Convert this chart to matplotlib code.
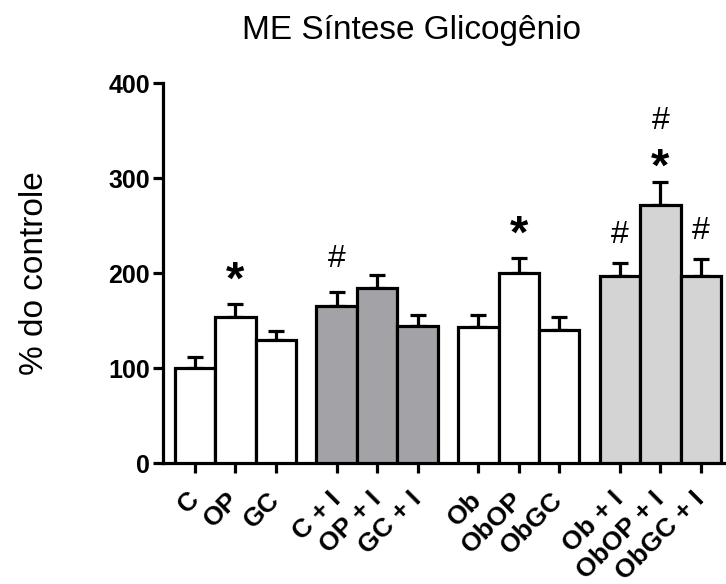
import matplotlib.pyplot as plt

plt.rcParams["font.family"] = ["Liberation Sans", "DejaVu Sans"]

labels = ["C", "OP", "GC", "C + I", "OP + I", "GC + I",
          "Ob", "ObOP", "ObGC", "Ob + I", "ObOP + I", "ObGC + I"]
means = [100, 154, 130, 166, 184, 144, 143, 200, 140, 197, 272, 197]
sems = [12, 14, 9, 14, 14, 12, 13, 16, 14, 14, 24, 18]
positions = [0, 1, 2, 3.5, 4.5, 5.5, 7, 8, 9, 10.5, 11.5, 12.5]
bar_colors = ["white"] * 3 + ["#a3a3a7"] * 3 + ["white"] * 3 + ["#d4d4d4"] * 3

# significance marks: (bar index, symbol, offset above error cap in px)
marks = [(1, "*", 22), (3, "#", 33), (7, "*", 22), (9, "#", 28),
         (10, "*", 13), (10, "#", 61), (11, "#", 28)]

LW = 2.3

fig = plt.figure(figsize=(7.26, 5.84), dpi=100)
ax = fig.add_axes([163 / 726, 1 - 463.3 / 584, (726 - 163) / 726, 380 / 584])

ax.bar(positions, means, width=1.0, color=bar_colors, edgecolor="black",
       linewidth=LW, zorder=3)
ax.errorbar(positions, means, yerr=[[0] * len(sems), sems], fmt="none",
            ecolor="black", elinewidth=LW, capsize=5.5, capthick=LW, zorder=2)

for i, sym, off in marks:
    top = means[i] + sems[i]
    if sym == "*":
        kw = dict(fontsize=34, fontweight="bold")
    else:
        kw = dict(fontsize=23)
    ax.annotate(sym, (positions[i], top), xytext=(0, off * 0.72),
                textcoords="offset points", ha="center", va="center", **kw)

ax.set_xlim(-0.79, 13.12)
ax.set_ylim(0, 400)
ax.set_yticks([0, 100, 200, 300, 400])
ax.set_xticks(positions)
ax.set_xticklabels(labels, rotation=45, ha="right", va="center",
                   rotation_mode="anchor", fontsize=19, fontweight="bold")
for t in ax.get_yticklabels():
    t.set_fontsize(18)
    t.set_fontweight("bold")

for s in ["top", "right"]:
    ax.spines[s].set_visible(False)
for s in ["left", "bottom"]:
    ax.spines[s].set_linewidth(LW)
ax.tick_params(axis="both", length=7.5, width=LW, direction="out", pad=2)
ax.tick_params(axis="x", pad=16)

ax.set_ylabel("% do controle", fontsize=24, labelpad=42)
fig.text(411 / 726, 1 - 31 / 584, "ME Síntese Glicogênio", fontsize=24,
         ha="center", va="center")

fig.savefig("out.png", dpi=100)
